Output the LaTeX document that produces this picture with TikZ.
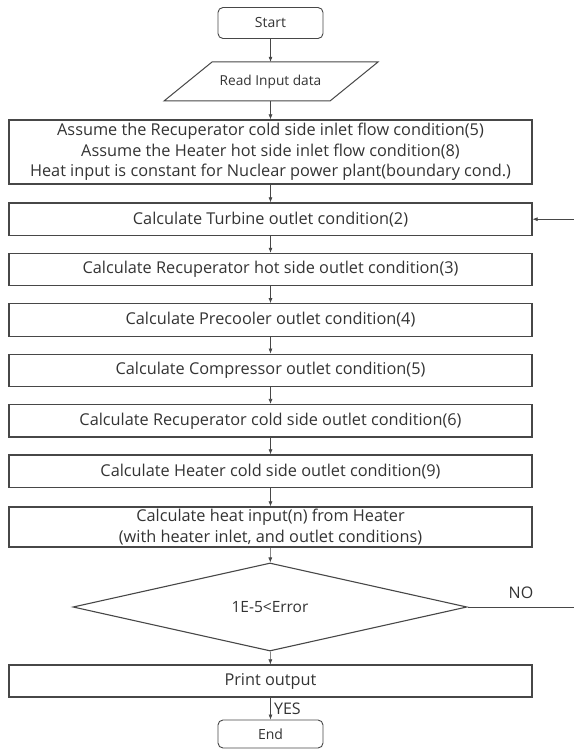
\documentclass[tikz,border=0pt]{standalone}
\usepackage{fontspec}
\setmainfont{Open Sans}
\usetikzlibrary{shapes.geometric,arrows.meta}
\definecolor{linec}{HTML}{474747}
\definecolor{textc}{HTML}{333333}
\tikzset{
  every node/.style={text=textc, font=\fontsize{16.3}{20.5}\selectfont},
  procbox/.style={draw=linec, line width=1.2pt, minimum width=523pt, inner sep=0pt, align=center},
  termbox/.style={draw=linec, line width=0.9pt, rounded corners=5pt, minimum width=105pt, inner sep=0pt, font=\fontsize{14}{16}\selectfont},
  decbox/.style={draw=linec, line width=1.1pt, shape=diamond, minimum width=394pt, minimum height=80pt, inner sep=0pt, font=\fontsize{15.5}{18}\selectfont},
  flow/.style={draw=linec, line width=0.6pt, -{Latex[length=5pt,width=4pt]}},
  lbl/.style={font=\fontsize{16}{18}\selectfont},
}
\begin{document}
\begin{tikzpicture}[x=1pt,y=-1pt]
\useasboundingbox (0,0) rectangle (573,749);
\node[termbox, minimum height=31pt] (start) at (270.5,23) {Start};
\node[inner sep=0pt, minimum width=120pt, minimum height=39pt, font=\fontsize{13.7}{16}\selectfont] (read) at (270.5,81.5) {Read Input data};
\draw[linec, line width=1pt] (164,101) -- (212,62) -- (378,62) -- (330,101) -- cycle;
\node[procbox, minimum height=64pt] (assume) at (270.5,152) {Assume the Recuperator cold side inlet flow condition(5)\\Assume the Heater hot side inlet flow condition(8)\\Heat input is constant for Nuclear power plant(boundary cond.)};
\node[procbox, minimum height=32.5pt] (turb) at (270.5,219.2) {Calculate Turbine outlet condition(2)};
\node[procbox, minimum height=32.5pt] (rhot) at (270.5,269.6) {Calculate Recuperator hot side outlet condition(3)};
\node[procbox, minimum height=32.5pt] (prec) at (270.5,320) {Calculate Precooler outlet condition(4)};
\node[procbox, minimum height=32.5pt] (comp) at (270.5,370.4) {Calculate Compressor outlet condition(5)};
\node[procbox, minimum height=32.5pt] (rcold) at (270.5,420.8) {Calculate Recuperator cold side outlet condition(6)};
\node[procbox, minimum height=32.5pt] (hcold) at (270.5,471.2) {Calculate Heater cold side outlet condition(9)};
\node[procbox, minimum height=40pt] (heat) at (270.5,527) {Calculate heat input(n) from Heater\\(with heater inlet, and outlet conditions)};
\node[decbox] (dec) at (270,607) {1E-5<Error};
\node[procbox, minimum height=32pt] (print) at (270.5,681) {Print output};
\node[termbox, minimum height=28pt] (end) at (270.5,734) {End};
\coordinate (fbr) at (576,607);
\coordinate (fbt) at (576,219.2);
\draw[flow] (start) -- (read);
\draw[flow] (read) -- (assume);
\draw[flow] (assume) -- (turb);
\draw[flow] (turb) -- (rhot);
\draw[flow] (rhot) -- (prec);
\draw[flow] (prec) -- (comp);
\draw[flow] (comp) -- (rcold);
\draw[flow] (rcold) -- (hcold);
\draw[flow] (hcold) -- (heat);
\draw[flow] (heat) -- (dec);
\draw[flow] (dec) -- (print);
\draw[flow] (print) -- (end) node[lbl, midway, right=0pt] {YES};
\draw[flow] (dec.east) -- (fbr) -- (fbt) -- (turb.east);
\node[lbl] (no) at (521,593) {NO};
\end{tikzpicture}
\end{document}
